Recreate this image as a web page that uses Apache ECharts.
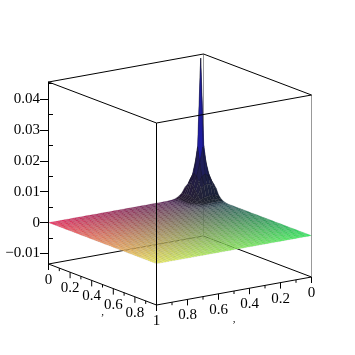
<!DOCTYPE html>
<html lang="en" style="height: 100%">
<head>
  <meta charset="utf-8">
</head>
<body style="height: 100%; margin: 0; background: #fff">
  <div id="container" style="height: 100%"></div>

  <script type="text/javascript" src="https://cdn.jsdelivr.net/npm/echarts@6/dist/echarts.min.js"></script>

  <script type="text/javascript">
    var dom = document.getElementById('container');
    var myChart = echarts.init(dom, null, { renderer: 'canvas' });

    // tick values
    const zMajorTicks = [-0.01, 0, 0.01, 0.02, 0.03, 0.04];
    const zMinorTicks = [-0.005, 0.005, 0.015, 0.025, 0.035, 0.045];
    const xyMajorTicks = [0, 0.2, 0.4, 0.6, 0.8, 1];
    const xyMinorTicks = [0.1, 0.3, 0.5, 0.7, 0.9];
    const xyLabels = ['0', '0.2', '0.4', '0.6', '0.8', '1'];

    const zMin = -0.0134;
    const zMax = 0.0455;

    // surface: 50 x 50 cells, flat at z = 0 apart from the spike near the back corner
    const cellCount = 50;
    const flatZ = 0;
    // estimated heights around the spike, rows along x, columns along y
    const spikeZ = [
      [0.0035, 0.0045, 0.0052, 0.0055, 0.0052, 0.0045, 0.0035, 0.0018, 0.0009, 0.0004, 0.00015, 0.00005, 0],
      [0.0045, 0.0062, 0.0078, 0.0085, 0.0078, 0.0062, 0.0035, 0.0016, 0.0008, 0.00035, 0.00012, 0.00004, 0],
      [0.0052, 0.0078, 0.012, 0.017, 0.012, 0.0078, 0.0045, 0.0018, 0.0009, 0.0004, 0.00015, 0.00005, 0],
      [0.0055, 0.0085, 0.017, 0.0455, 0.017, 0.0085, 0.0055, 0.002, 0.001, 0.00045, 0.00018, 0.00006, 0],
      [0.0052, 0.0078, 0.012, 0.017, 0.012, 0.0078, 0.0045, 0.0018, 0.0009, 0.0004, 0.00015, 0.00005, 0],
      [0.0045, 0.0062, 0.0078, 0.0085, 0.0078, 0.0062, 0.0035, 0.0016, 0.0008, 0.00035, 0.00012, 0.00004, 0],
      [0.0035, 0.0045, 0.0052, 0.0055, 0.0052, 0.0045, 0.0025, 0.0012, 0.0006, 0.00025, 0.0001, 0.00003, 0],
      [0.0018, 0.0016, 0.0018, 0.002, 0.0018, 0.0016, 0.0012, 0.0007, 0.00035, 0.00015, 0.00006, 0.00002, 0],
      [0.0009, 0.0008, 0.0009, 0.001, 0.0009, 0.0008, 0.0006, 0.00035, 0.00018, 0.00008, 0.00003, 0, 0],
      [0.0004, 0.00035, 0.0004, 0.00045, 0.0004, 0.00035, 0.00025, 0.00015, 0.00008, 0.00003, 0, 0, 0],
      [0.00015, 0.00012, 0.00015, 0.00018, 0.00015, 0.00012, 0.0001, 0.00006, 0.00003, 0, 0, 0, 0],
      [0.00005, 0.00004, 0.00005, 0.00006, 0.00005, 0.00004, 0.00003, 0.00002, 0, 0, 0, 0, 0]
    ];

    function surfaceZ(i, j) {
      return spikeZ[i] && spikeZ[i][j] !== undefined ? spikeZ[i][j] : flatZ;
    }

    // oblique view of the unit box, into the hidden plane axes
    function project(x, y, z) {
      return [
        203.5 + 108 * x - 155 * y,
        236 + 41 * x + 28 * y - 182 * (z - zMin) / (zMax - zMin)
      ];
    }

    // box edges as [x1, y1, z1, x2, y2, z2]
    const hiddenEdges = [
      [0, 0, zMin, 1, 0, zMin],
      [0, 0, zMin, 0, 1, zMin]
    ];
    const greyEdges = [
      [0, 0, zMin, 0, 0, zMax],
      [1, 0, zMin, 1, 0, zMax]
    ];
    const frontEdges = [
      [0, 0, zMax, 1, 0, zMax],
      [0, 0, zMax, 0, 1, zMax],
      [1, 1, zMax, 1, 0, zMax],
      [1, 1, zMax, 0, 1, zMax],
      [1, 1, zMin, 1, 0, zMin],
      [1, 1, zMin, 0, 1, zMin],
      [1, 1, zMin, 1, 1, zMax]
    ];

    function edgeSeries(edges, color, z) {
      return {
        type: 'custom',
        coordinateSystem: 'cartesian2d',
        xAxisIndex: 0,
        yAxisIndex: 0,
        silent: true,
        z: z,
        data: edges,
        encode: { x: 0, y: 1 },
        renderItem: function (params, api) {
          const a = api.coord(project(api.value(0), api.value(1), api.value(2)));
          const b = api.coord(project(api.value(3), api.value(4), api.value(5)));
          return {
            type: 'line',
            shape: { x1: a[0], y1: a[1], x2: b[0], y2: b[1] },
            style: { stroke: color, lineWidth: 1 }
          };
        }
      };
    }

    const cells = [];
    for (let i = 0; i < cellCount; i++) {
      for (let j = 0; j < cellCount; j++) {
        cells.push([i, j]);
      }
    }

    function cellSteepness(i, j) {
      const zs = [surfaceZ(i, j), surfaceZ(i + 1, j), surfaceZ(i, j + 1), surfaceZ(i + 1, j + 1)];
      return Math.min(1, (Math.max.apply(null, zs) - Math.min.apply(null, zs)) / 0.0006);
    }

    // red follows y, green follows x, blue climbs with height, steep cells go darker
    function cellColor(i, j) {
      const top = Math.max(surfaceZ(i, j), surfaceZ(i + 1, j), surfaceZ(i, j + 1), surfaceZ(i + 1, j + 1));
      const shade = 1 - 0.55 * cellSteepness(i, j);
      const r = (55 + 205 * (j + 0.5) / cellCount) * shade;
      const g = (50 + 210 * (i + 0.5) / cellCount) * shade;
      const b = (105 + 250 * top / zMax) * shade;
      return 'rgb(' + Math.round(r) + ',' + Math.round(g) + ',' + Math.round(b) + ')';
    }

    const surfaceSeries = {
      type: 'custom',
      coordinateSystem: 'cartesian2d',
      xAxisIndex: 0,
      yAxisIndex: 0,
      silent: true,
      z: 3,
      progressive: 0,
      data: cells,
      encode: { x: 0, y: 1 },
      renderItem: function (params, api) {
        const i = api.value(0);
        const j = api.value(1);
        const corners = [[i, j], [i + 1, j], [i + 1, j + 1], [i, j + 1]].map(function (c) {
          return api.coord(project(c[0] / cellCount, c[1] / cellCount, surfaceZ(c[0], c[1])));
        });
        const meshAlpha = 0.16 + 0.34 * cellSteepness(i, j);
        return {
          type: 'polygon',
          shape: { points: corners },
          style: { fill: cellColor(i, j), stroke: 'rgba(20,20,30,' + meshAlpha + ')', lineWidth: 0.5 }
        };
      }
    };

    // ticks and labels of the two slanted axes: [x, y, tick length]
    const slantedTicks = [];
    xyMajorTicks.forEach(function (v) {
      slantedTicks.push([v, 1, 6], [1, v, 6]);
    });
    xyMinorTicks.forEach(function (v) {
      slantedTicks.push([v, 1, 3], [1, v, 3]);
    });

    const tickSeries = {
      type: 'custom',
      coordinateSystem: 'cartesian2d',
      xAxisIndex: 0,
      yAxisIndex: 0,
      silent: true,
      z: 5,
      data: slantedTicks,
      encode: { x: 0, y: 1 },
      renderItem: function (params, api) {
        const p = project(api.value(0), api.value(1), zMin);
        const a = api.coord(p);
        const b = api.coord([p[0], p[1] + api.value(2)]);
        return {
          type: 'line',
          shape: { x1: a[0], y1: a[1], x2: b[0], y2: b[1] },
          style: { stroke: '#000', lineWidth: 1 }
        };
      }
    };

    // [x, y, text]
    const slantedLabels = [];
    xyMajorTicks.forEach(function (v, k) {
      slantedLabels.push([v, 1, xyLabels[k]]);
      if (v < 1) {
        slantedLabels.push([1, v, xyLabels[k]]);
      }
    });

    const labelFont = '15px "Liberation Serif"';

    const labelSeries = {
      type: 'custom',
      coordinateSystem: 'cartesian2d',
      xAxisIndex: 0,
      yAxisIndex: 0,
      silent: true,
      z: 6,
      data: slantedLabels,
      encode: { x: 0, y: 1 },
      renderItem: function (params, api) {
        const p = project(api.value(0), api.value(1), zMin);
        const a = api.coord([p[0], p[1] + 16]);
        return {
          type: 'text',
          style: {
            x: a[0],
            y: a[1],
            text: slantedLabels[params.dataIndex][2],
            font: labelFont,
            fill: '#000',
            align: 'center',
            verticalAlign: 'middle'
          }
        };
      }
    };

    // the empty axis titles come out as a lone comma: [x, y, text]
    const axisTitles = [
      [0.5, 1, ','],
      [1, 0.5, ',']
    ];

    const titleSeries = {
      type: 'custom',
      coordinateSystem: 'cartesian2d',
      xAxisIndex: 0,
      yAxisIndex: 0,
      silent: true,
      z: 6,
      data: axisTitles,
      encode: { x: 0, y: 1 },
      renderItem: function (params, api) {
        const p = project(api.value(0), api.value(1), zMin);
        const a = api.coord([p[0], p[1] + 28]);
        return {
          type: 'text',
          style: {
            x: a[0],
            y: a[1],
            text: axisTitles[params.dataIndex][2],
            font: '11px "Liberation Serif"',
            fill: '#000',
            align: 'center',
            verticalAlign: 'middle'
          }
        };
      }
    };

    const option = {
      animation: false,
      backgroundColor: '#fff',
      grid: [
        { left: 0, right: 0, top: 0, bottom: 0 },
        { left: 48, top: 82, width: 1, height: 182 }
      ],
      xAxis: [
        { type: 'value', gridIndex: 0, min: 0, max: 355, show: false },
        { type: 'value', gridIndex: 1, min: 0, max: 1, show: false }
      ],
      yAxis: [
        { type: 'value', gridIndex: 0, min: 0, max: 355, inverse: true, show: false },
        {
          type: 'value',
          gridIndex: 1,
          min: zMin,
          max: zMax,
          z: 5,
          splitLine: { show: false },
          axisLine: { show: true, onZero: false, lineStyle: { color: '#000', width: 1 } },
          axisTick: { show: true, length: 8, customValues: zMajorTicks, lineStyle: { color: '#000' } },
          axisLabel: {
            show: true,
            margin: 8,
            customValues: zMajorTicks,
            fontFamily: 'Liberation Serif',
            fontSize: 15,
            color: '#000',
            formatter: function (v) {
              return v === 0 ? '0' : String(v).replace('-', '\u2212');
            }
          }
        },
        {
          type: 'value',
          gridIndex: 1,
          min: zMin,
          max: zMax,
          z: 5,
          splitLine: { show: false },
          axisLine: { show: false, onZero: false },
          axisTick: { show: true, length: 4, customValues: zMinorTicks, lineStyle: { color: '#000' } },
          axisLabel: { show: false }
        }
      ],
      series: [
        edgeSeries(hiddenEdges, '#000', 1),
        edgeSeries(greyEdges, '#999', 2),
        surfaceSeries,
        edgeSeries(frontEdges, '#000', 4),
        tickSeries,
        labelSeries,
        titleSeries
      ]
    };

    myChart.setOption(option);

    window.addEventListener('resize', myChart.resize);
  </script>
</body>
</html>
